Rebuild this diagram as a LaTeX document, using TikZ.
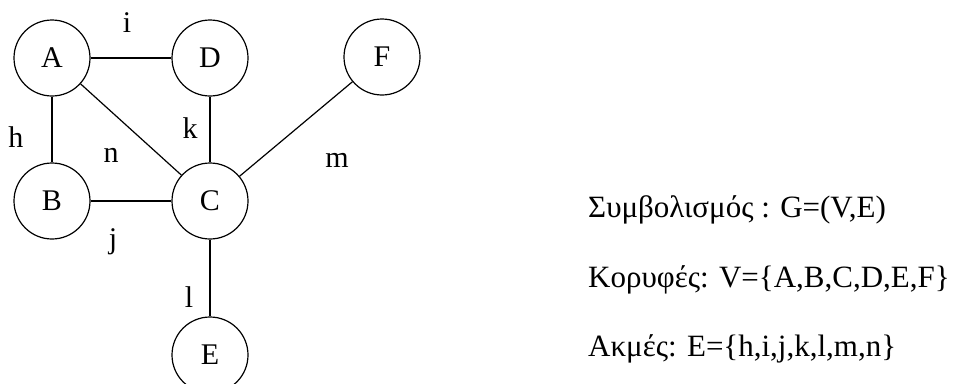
\documentclass[tikz,border=0pt]{standalone}
\usepackage{fontspec}
\setmainfont{Liberation Serif}
\usetikzlibrary{positioning}

\begin{document}
\begin{tikzpicture}[
    x=1pt, y=-1pt,
    vertex/.style={draw, circle, line width=1.2pt, minimum size=76pt, inner sep=0pt, font=\fontsize{30}{34}\selectfont},
    lbl/.style={inner sep=0pt, font=\fontsize{30}{34}\selectfont},
    info/.style={anchor=base west, inner sep=0pt, font=\fontsize{31}{36}\selectfont},
    edge/.style={line width=1.2pt}
]
\useasboundingbox (0,0) rectangle (960,383);
\node[vertex] (A) at (52,58) {A};
\node[vertex] (D) at (210,58) {D};
\node[vertex] (F) at (382,57) {F};
\node[vertex] (B) at (52,201) {B};
\node[vertex] (C) at (210,201) {C};
\node[vertex] (E) at (210,355) {E};
\draw[edge] (A) -- (D);
\draw[edge] (A) -- (B);
\draw[edge] (A) -- (C);
\draw[edge] (D) -- (C);
\draw[edge] (B) -- (C);
\draw[edge] (C) -- (F);
\draw[edge] (C) -- (E);
% edge names
\node[lbl] (li) at (127,23) {i};
\node[lbl] (lh) at (16,137) {h};
\node[lbl] (ln) at (111,155) {n};
\node[lbl] (lk) at (190,128) {k};
\node[lbl] (lm) at (337,160) {m};
\node[lbl] (lj) at (113,242) {j};
\node[lbl] (ll) at (189,297) {l};
% notation
\node[info] (sym) at (588,217) {Συμβολισμός : G=(V,E)};
\node[info] (kor) at (588,287) {Κορυφές: V=\{A,B,C,D,E,F\}};
\node[info] (akm) at (588,356) {Ακμές: E=\{h,i,j,k,l,m,n\}};
\end{tikzpicture}
\end{document}
